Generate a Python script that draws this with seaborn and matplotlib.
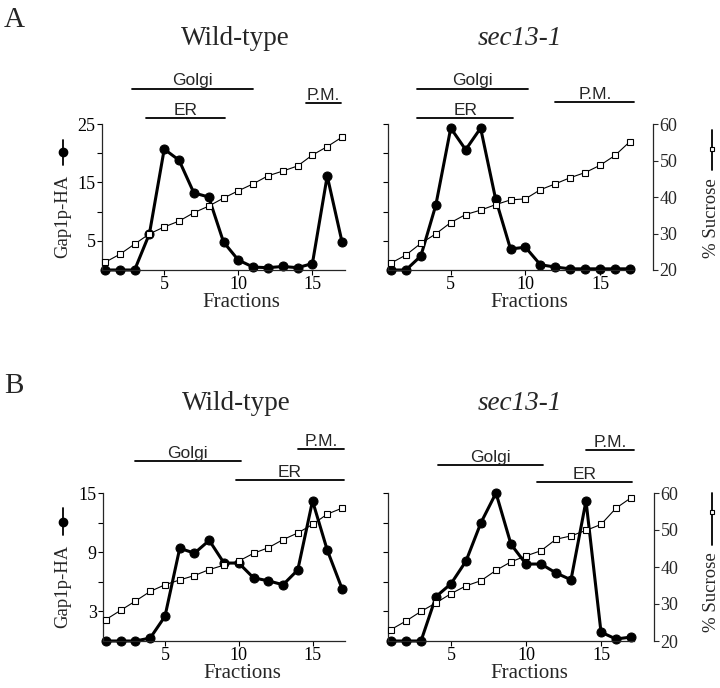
import matplotlib
matplotlib.use('Agg')
import matplotlib.pyplot as plt
import seaborn as sns
from matplotlib.lines import Line2D

# fraction numbers along the gradient
fractions = list(range(1, 18))

# panel A, Gap1p-HA signal
gap_a_wt = [0, 0, 0, 6.2, 20.7, 18.8, 13.2, 12.5, 4.8, 1.7, 0.5, 0.4, 0.6, 0.4, 1.1, 16.1, 4.8]
gap_a_sec = [0, 0, 2.4, 11.1, 24.3, 20.6, 24.3, 12.2, 3.6, 3.9, 0.9, 0.5, 0.2, 0.2, 0.2, 0.2, 0.2]
# panel A, % sucrose
suc_a_wt = [22.1, 24.3, 27.1, 29.9, 31.8, 33.4, 35.7, 37.5, 39.7, 41.7, 43.6, 45.8, 47.1, 48.5, 51.5, 53.8, 56.4]
suc_a_sec = [21.9, 24.1, 27.3, 29.9, 33.0, 35.2, 36.4, 37.9, 39.2, 39.5, 42.0, 43.6, 45.3, 46.7, 48.7, 51.4, 55.2]

# panel B, Gap1p-HA signal
gap_b_wt = [0, 0, 0, 0.3, 2.5, 9.4, 8.9, 10.2, 7.9, 7.9, 6.4, 6.1, 5.7, 7.2, 14.2, 9.2, 5.3]
gap_b_sec = [0, 0, 0, 4.5, 5.8, 8.1, 12.0, 15.0, 9.8, 7.8, 7.8, 6.9, 6.2, 14.2, 0.9, 0.2, 0.4]
# panel B, % sucrose
suc_b_wt = [25.8, 28.3, 30.8, 33.4, 35.2, 36.5, 37.7, 39.3, 40.5, 41.6, 43.7, 45.2, 47.4, 49.2, 51.5, 54.3, 55.9]
suc_b_sec = [23.1, 25.4, 28.0, 30.3, 32.8, 34.9, 36.3, 39.1, 41.4, 43.0, 44.4, 47.5, 48.4, 49.9, 51.5, 55.9, 58.7]

# marker bands: (label, first fraction, last fraction)
bands_a_wt = [('Golgi', 2.8, 11.0), ('ER', 3.8, 9.1), ('P.M.', 14.6, 16.9)]
bands_a_sec = [('Golgi', 2.75, 10.2), ('ER', 2.75, 9.2), ('P.M.', 12.0, 17.3)]
bands_b_wt = [('Golgi', 2.95, 10.15), ('ER', 9.8, 17.15), ('P.M.', 14.0, 17.15)]
bands_b_sec = [('Golgi', 4.15, 11.1), ('ER', 10.75, 17.05), ('P.M.', 14.0, 17.2)]

sns.set_style('ticks')
plt.rcParams['font.family'] = ['Liberation Serif', 'DejaVu Serif']
plt.rcParams['axes.linewidth'] = 0.9

W, H = 720, 688
fig = plt.figure(figsize=(7.2, 6.88), dpi=100)


def add_ax(x0, x1, ytop, ybot):
    return fig.add_axes([x0 / W, 1 - ybot / H, (x1 - x0) / W, (ybot - ytop) / H])


def draw_panel(ax, gap, suc, gmax, gticks, glabels, bands, levels, right):
    ax2 = ax.twinx()
    sns.lineplot(x=fractions, y=gap, ax=ax, color='black', lw=2.2, marker='o',
                 markersize=6.5, markeredgecolor='black', markerfacecolor='black', clip_on=False)
    sns.lineplot(x=fractions, y=suc, ax=ax2, color='black', lw=0.8, marker='s',
                 markersize=4, markerfacecolor='white', markeredgecolor='black',
                 markeredgewidth=0.8, clip_on=False)
    ax.set_xlim(0.8, 17.2)
    ax.set_ylim(0, gmax)
    ax2.set_ylim(20, 60)
    ax.set_xticks([5, 10, 15])
    ax.set_yticks(gticks)
    ax.set_yticklabels(glabels if not right else [''] * len(gticks))
    ax.tick_params(labelsize=13, length=3.5, width=0.8, pad=1, colors='black')
    ax.set_xlabel('Fractions', fontsize=15, labelpad=0)
    ax.xaxis.label.set_x(0.575)
    ax.set_ylabel('')
    sns.despine(ax=ax)
    for s in ['top', 'left', 'bottom']:
        ax2.spines[s].set_visible(False)
    if right:
        ax2.spines['right'].set_position(('outward', 14.5))
        ax2.set_yticks([20, 30, 40, 50, 60])
        ax2.tick_params(labelsize=13, length=3.5, width=0.8, pad=1)
    else:
        ax2.spines['right'].set_visible(False)
        ax2.set_yticks([])
    ax2.set_ylabel('')
    trans = ax.get_xaxis_transform()
    for (name, a, b), lev in zip(bands, levels):
        ax.plot([a, b], [lev, lev], transform=trans, color='black', lw=1.3, clip_on=False)
        ax.annotate(name, xy=((a + b) / 2, lev), xycoords=trans, xytext=(0, 2.5),
                    textcoords='offset points', ha='center', va='baseline',
                    fontsize=12.5, family=['Liberation Sans', 'DejaVu Sans'])


def side_label(x, ytext, yline0, yline1, ymark, text, filled):
    fig.text(x / W, 1 - ytext / H, text, rotation=90, ha='center', va='center', fontsize=13.5)
    fig.add_artist(Line2D([x / W, x / W], [1 - yline0 / H, 1 - yline1 / H], color='black', lw=1.3))
    if filled:
        fig.add_artist(Line2D([x / W], [1 - ymark / H], marker='o', markersize=6,
                              color='black'))
    else:
        fig.add_artist(Line2D([x / W], [1 - ymark / H], marker='s', markersize=3.5,
                              markerfacecolor='white', markeredgecolor='black', markeredgewidth=0.8))


ax_a1 = add_ax(102, 345, 124, 270)
ax_a2 = add_ax(388, 633, 124, 270)
ax_b1 = add_ax(103, 345, 493, 641)
ax_b2 = add_ax(388, 634, 493, 641)

draw_panel(ax_a1, gap_a_wt, suc_a_wt, 25, [5, 10, 15, 20, 25], ['5', '', '15', '', '25'],
           bands_a_wt, [1.24, 1.041, 1.144], False)
draw_panel(ax_a2, gap_a_sec, suc_a_sec, 25, [5, 10, 15, 20, 25], ['5', '', '15', '', '25'],
           bands_a_sec, [1.24, 1.041, 1.149], True)
draw_panel(ax_b1, gap_b_wt, suc_b_wt, 15, [3, 6, 9, 12, 15], ['3', '', '9', '', '15'],
           bands_b_wt, [1.216, 1.088, 1.297], False)
draw_panel(ax_b2, gap_b_sec, suc_b_sec, 15, [3, 6, 9, 12, 15], ['3', '', '9', '', '15'],
           bands_b_sec, [1.189, 1.074, 1.29], True)

# titles and panel letters
fig.text(235 / W, 1 - 45 / H, 'Wild-type', ha='center', va='baseline', fontsize=19.5)
fig.text(520 / W, 1 - 45 / H, 'sec13-1', ha='center', va='baseline', fontsize=19.5, style='italic')
fig.text(236 / W, 1 - 410 / H, 'Wild-type', ha='center', va='baseline', fontsize=19.5)
fig.text(520 / W, 1 - 410 / H, 'sec13-1', ha='center', va='baseline', fontsize=19.5, style='italic')
fig.text(4 / W, 1 - 27 / H, 'A', ha='left', va='baseline', fontsize=21)
fig.text(4 / W, 1 - 393 / H, 'B', ha='left', va='baseline', fontsize=21)

# axis labels with their line keys
side_label(63, 216, 165, 140, 152, 'Gap1p-HA', True)
side_label(63, 586, 535, 508, 522, 'Gap1p-HA', True)
side_label(712, 218, 170, 130, 149, '% Sucrose', False)
side_label(712, 592, 545, 493, 512, '% Sucrose', False)

fig.savefig('out.png', dpi=100)
